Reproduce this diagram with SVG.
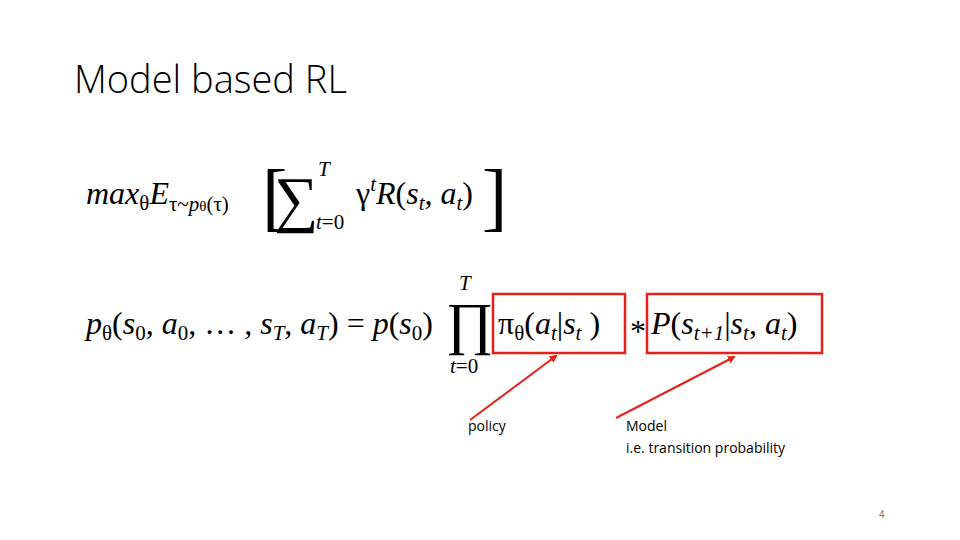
<svg xmlns="http://www.w3.org/2000/svg" width="960" height="540" viewBox="0 0 960 540">
<defs>
<marker id="ah" markerWidth="8" markerHeight="8" refX="6" refY="4" orient="auto" markerUnits="userSpaceOnUse"><path d="M0,0 L8,4 L0,8 z" fill="#e8201a"/></marker>
<style>
.m{font-family:"Liberation Serif",serif;font-size:32px;fill:#000}
.i{font-style:italic}
.s{font-size:21px}
.lbl{font-family:"Open Sans","Liberation Sans",sans-serif;font-size:14px;fill:#000}
.box{fill:none;stroke:#e8201a;stroke-width:2.5}
.arr{stroke:#e8201a;stroke-width:2;fill:none;marker-end:url(#ah)}
</style>
</defs>
<rect width="960" height="540" fill="#fff"/>
<text x="74" y="93" font-family="Open Sans, Liberation Sans, sans-serif" font-weight="300" font-size="38">Model based RL</text>
<g id="eq1">
<text x="86" y="204" class="m"><tspan class="i">max</tspan><tspan class="s" dy="6">θ</tspan><tspan class="i" dy="-6">E</tspan><tspan class="s" dy="7">τ~</tspan><tspan class="s i">p</tspan><tspan font-size="15">θ</tspan><tspan class="s">(τ)</tspan></text>
<text x="262" y="222" font-family="Liberation Serif,serif" font-size="76">[</text>
<text x="274" y="220" font-family="Liberation Serif,serif" font-size="62">∑</text>
<text x="318" y="176" class="m i s">T</text>
<text x="316" y="229" class="m s"><tspan class="i">t</tspan>=0</text>
<text x="356" y="204" class="m">γ<tspan class="s i" dy="-13">t</tspan><tspan class="i" dy="13">R</tspan>(<tspan class="i">s</tspan><tspan class="s i" dy="6">t</tspan><tspan dy="-6">, </tspan><tspan class="i">a</tspan><tspan class="s i" dy="6">t</tspan><tspan dy="-6">)</tspan></text>
<text x="482" y="222" font-family="Liberation Serif,serif" font-size="76">]</text>
</g>
<g id="eq2">
<text x="86" y="334" class="m"><tspan class="i">p</tspan><tspan class="s" dy="6">θ</tspan><tspan dy="-6">(</tspan><tspan class="i">s</tspan><tspan class="s" dy="6">0</tspan><tspan dy="-6">, </tspan><tspan class="i">a</tspan><tspan class="s" dy="6">0</tspan><tspan dy="-6">, … , </tspan><tspan class="i">s</tspan><tspan class="s i" dy="6">T</tspan><tspan dy="-6">, </tspan><tspan class="i">a</tspan><tspan class="s i" dy="6">T</tspan><tspan dy="-6">) = </tspan><tspan class="i">p</tspan>(<tspan class="i">s</tspan><tspan class="s" dy="6">0</tspan><tspan dy="-6">)</tspan></text>
<text x="446" y="343" font-family="Liberation Serif,serif" font-size="58">∏</text>
<text x="459" y="290" class="m i s">T</text>
<text x="450" y="373" class="m s"><tspan class="i">t</tspan>=0</text>
<text x="498" y="334" class="m">π<tspan class="s" dy="6">θ</tspan><tspan dy="-6">(</tspan><tspan class="i">a</tspan><tspan class="s i" dy="6">t</tspan><tspan dy="-6">|</tspan><tspan class="i">s</tspan><tspan class="s i" dy="6">t</tspan><tspan dy="-6"> )</tspan></text>
<text x="630" y="342" class="m">*</text>
<text x="651" y="334" class="m"><tspan class="i">P</tspan>(<tspan class="i">s</tspan><tspan class="s i" dy="6">t+1</tspan><tspan dy="-6">|</tspan><tspan class="i">s</tspan><tspan class="s i" dy="6">t</tspan><tspan dy="-6">, </tspan><tspan class="i">a</tspan><tspan class="s i" dy="6">t</tspan><tspan dy="-6">)</tspan></text>
</g>
<g id="box-policy"><rect class="box" x="493" y="294" width="132" height="59"/></g>
<g id="box-model"><rect class="box" x="647" y="294" width="175" height="59"/></g>
<g id="connectors">
<line class="arr" x1="470" y1="420" x2="556" y2="356"/>
<line class="arr" x1="616" y1="418" x2="734" y2="357"/>
</g>
<g id="label-policy"><text class="lbl" x="468" y="431">policy</text></g>
<g id="label-model"><text class="lbl" x="626" y="431">Model</text><text class="lbl" x="626" y="453">i.e. transition probability</text></g>
<text x="879" y="518" font-family="Liberation Sans,sans-serif" font-size="10" fill="#777">4</text>
</svg>
